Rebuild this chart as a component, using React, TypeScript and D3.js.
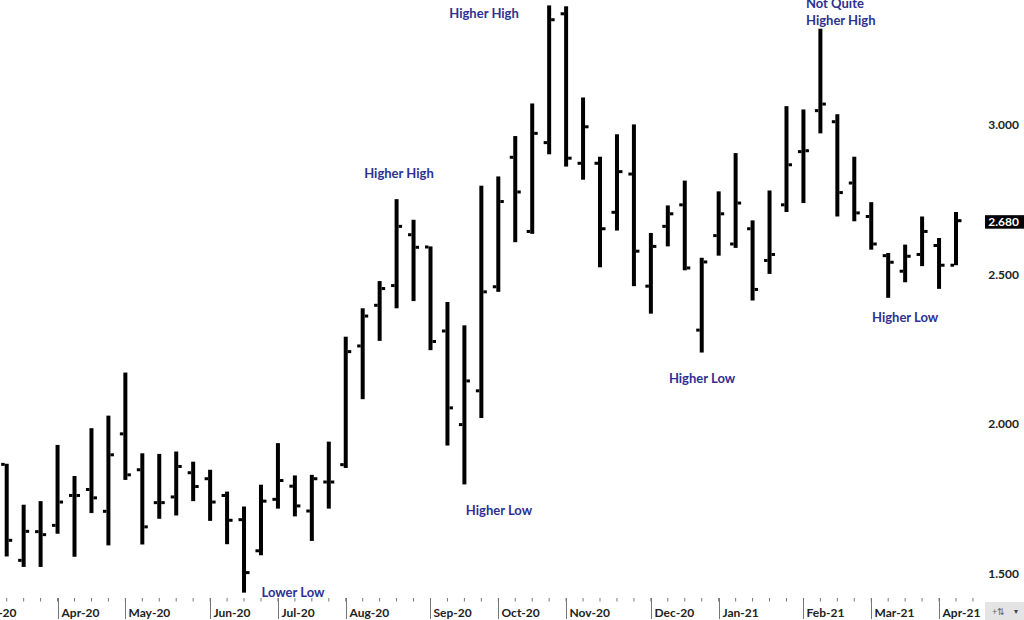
import React, { useRef, useEffect } from "react";
import * as d3 from "d3";

// weekly bars, weeks starting Sunday 15 Mar 2020 through 11 Apr 2021
const weeks = d3.timeWeek.range(new Date(2020, 2, 15), new Date(2021, 3, 12));

const opens = [
  1.865, 1.544, 1.640, 1.661, 1.761, 1.781, 1.708, 1.967, 1.847, 1.737,
  1.756, 1.837, 1.817, 1.761, 1.680, 1.576, 1.748, 1.792, 1.709, 1.806,
  1.864, 2.261, 2.397, 2.463, 2.633, 2.592, 2.311, 1.998, 2.111, 2.459,
  2.892, 2.644, 2.941, 3.372, 2.872, 2.872, 2.708, 2.836, 2.461, 2.661,
  2.733, 2.314, 2.630, 2.602, 2.653, 2.547, 2.733, 2.911, 3.048, 3.011,
  2.806, 2.694, 2.563, 2.511, 2.567, 2.597, 2.531,
];
const highs = [
  1.867, 1.730, 1.742, 1.930, 1.826, 1.986, 2.028, 2.172, 1.902, 1.900,
  1.908, 1.874, 1.847, 1.774, 1.724, 1.797, 1.936, 1.828, 1.830, 1.941,
  2.292, 2.387, 2.478, 2.752, 2.683, 2.594, 2.408, 2.330, 2.797, 2.828,
  2.963, 3.072, 3.400, 3.397, 3.092, 2.894, 2.969, 3.002, 2.639, 2.731,
  2.814, 2.556, 2.778, 2.906, 2.681, 2.781, 3.063, 3.052, 3.322, 3.036,
  2.894, 2.742, 2.572, 2.600, 2.694, 2.622, 2.709,
];
const lows = [
  1.557, 1.522, 1.522, 1.633, 1.556, 1.702, 1.594, 1.813, 1.597, 1.683,
  1.694, 1.742, 1.676, 1.598, 1.436, 1.561, 1.717, 1.691, 1.609, 1.717,
  1.853, 2.083, 2.278, 2.387, 2.411, 2.247, 1.928, 1.798, 2.020, 2.442,
  2.608, 2.636, 2.902, 2.861, 2.817, 2.524, 2.647, 2.461, 2.369, 2.594,
  2.514, 2.239, 2.563, 2.589, 2.413, 2.502, 2.709, 2.739, 2.972, 2.694,
  2.678, 2.583, 2.422, 2.474, 2.528, 2.452, 2.531,
];
const closes = [
  1.611, 1.641, 1.630, 1.739, 1.761, 1.753, 1.897, 1.830, 1.656, 1.737,
  1.858, 1.791, 1.739, 1.678, 1.503, 1.742, 1.811, 1.726, 1.817, 1.806,
  2.242, 2.361, 2.453, 2.661, 2.591, 2.276, 2.054, 2.144, 2.442, 2.744,
  2.776, 2.972, 3.352, 2.889, 2.994, 2.653, 2.844, 2.578, 2.594, 2.703,
  2.522, 2.542, 2.703, 2.739, 2.450, 2.567, 2.867, 2.914, 3.070, 2.774,
  2.706, 2.602, 2.541, 2.561, 2.644, 2.531, 2.680,
];

const priceTicks = [1.5, 2.0, 2.5, 3.0];

// annotations: bar index (fractional) and price level of the baseline
const noteLabels = [
  ["Higher High"], ["Higher High"], ["Not Quite", "Higher High"],
  ["Lower Low"], ["Higher Low"], ["Higher Low"], ["Higher Low"],
];
const noteBars = [28.16, 23.14, 47.15, 16.89, 29.04, 41.02, 53.0];
const notePrices = [3.359, 2.823, 3.391, 1.423, 1.697, 2.138, 2.342];
const noteAnchors = ["middle", "middle", "start", "middle", "middle", "middle", "middle"];

export default function App() {
  const ref = useRef<SVGSVGElement>(null);

  useEffect(() => {
    if (!ref.current) return;
    const svg = d3.select(ref.current);
    svg.selectAll("*").remove();

    const width = 1024;
    const height = 620;
    const font = "Lato, 'Open Sans', sans-serif";

    const x = d3.scaleTime().domain([weeks[0], weeks[weeks.length - 1]]).range([6.7, 956]);
    const y = d3.scaleLinear().domain([1.5, 3.0]).range([573.5, 125]);
    const xi = (i: number) => {
      const w = x(weeks[1]) - x(weeks[0]);
      return x(weeks[0]) + i * w;
    };

    svg.append("rect").attr("width", width).attr("height", height).attr("fill", "#fff");

    const bars = weeks.map((d, i) => ({ d, o: opens[i], h: highs[i], l: lows[i], c: closes[i] }));
    const g = svg.append("g");

    // high-low line
    g.selectAll("rect.hl").data(bars).enter().append("rect")
      .attr("x", (d) => x(d.d) - 2).attr("width", 4)
      .attr("y", (d) => y(d.h)).attr("height", (d) => y(d.l) - y(d.h))
      .attr("fill", "#000");
    // open tick
    g.selectAll("rect.op").data(bars).enter().append("rect")
      .attr("x", (d) => x(d.d) - 5.5).attr("width", 3.5)
      .attr("y", (d) => y(d.o) - 1.5).attr("height", 3)
      .attr("fill", "#000");
    // close tick
    g.selectAll("rect.cl").data(bars).enter().append("rect")
      .attr("x", (d) => x(d.d) + 2).attr("width", 3.5)
      .attr("y", (d) => y(d.c) - 1.5).attr("height", 3)
      .attr("fill", "#000");

    // bottom axis
    const axisY = 598;
    const tickWeeks = d3.timeWeek.range(new Date(2020, 2, 1), new Date(2021, 3, 19));
    svg.append("g").selectAll("line").data(tickWeeks).enter().append("line")
      .attr("x1", (d) => x(d)).attr("x2", (d) => x(d))
      .attr("y1", axisY).attr("y2", axisY + 3.5)
      .attr("stroke", "#777").attr("stroke-width", 1);

    const months = d3.timeMonth.range(new Date(2020, 2, 1), new Date(2021, 4, 1))
      .map((m) => d3.timeWeek.ceil(m));
    const fmt = d3.timeFormat("%b-%y");
    const mg = svg.append("g").selectAll("g").data(months).enter().append("g")
      .attr("transform", (d) => `translate(${Math.round(x(d)) + 0.5},0)`);
    mg.append("line").attr("y1", axisY).attr("y2", 619).attr("stroke", "#777").attr("stroke-width", 1);
    mg.append("text").attr("x", 3).attr("y", 617)
      .style("font-family", font).style("font-weight", 700).style("font-size", "12px")
      .attr("fill", "#222").text((d) => fmt(d));

    // right price labels
    svg.append("g").selectAll("text").data(priceTicks).enter().append("text")
      .attr("x", 1019).attr("y", (d) => y(d) + 4)
      .attr("text-anchor", "end")
      .style("font-family", font).style("font-weight", 700).style("font-size", "12px")
      .attr("fill", "#222").text((d) => d3.format(".3f")(d));

    // last price box
    const last = closes[closes.length - 1];
    svg.append("rect").attr("x", 985).attr("y", y(last) - 5.5).attr("width", 39).attr("height", 13.5).attr("fill", "#000");
    svg.append("text").attr("x", 1019).attr("y", y(last) + 5.5).attr("text-anchor", "end")
      .style("font-family", font).style("font-weight", 700).style("font-size", "12px")
      .attr("fill", "#fff").text(d3.format(".3f")(last));

    // annotations
    noteLabels.forEach((lines, k) => {
      const t = svg.append("text")
        .attr("text-anchor", noteAnchors[k])
        .style("font-family", font).style("font-weight", 700).style("font-size", "13px")
        .attr("fill", "#2e3192");
      lines.forEach((s, j) => {
        t.append("tspan").attr("x", xi(noteBars[k])).attr("y", y(notePrices[k]) + j * 16.5).text(s);
      });
    });

    // little widget at bottom right
    svg.append("rect").attr("x", 985).attr("y", 602).attr("width", 39).attr("height", 18).attr("fill", "#e4e4e4");
    svg.append("text").attr("x", 992).attr("y", 615).style("font-size", "9px").style("font-family", font)
      .attr("fill", "#666").text("+⇅");
    svg.append("text").attr("x", 1014).attr("y", 614).style("font-size", "8px").style("font-family", font)
      .attr("fill", "#444").text("▾");
  }, []);

  return (
    <svg ref={ref} width={1024} height={620}
      style={{ position: "absolute", left: 0, top: 0, display: "block" }} />
  );
}
